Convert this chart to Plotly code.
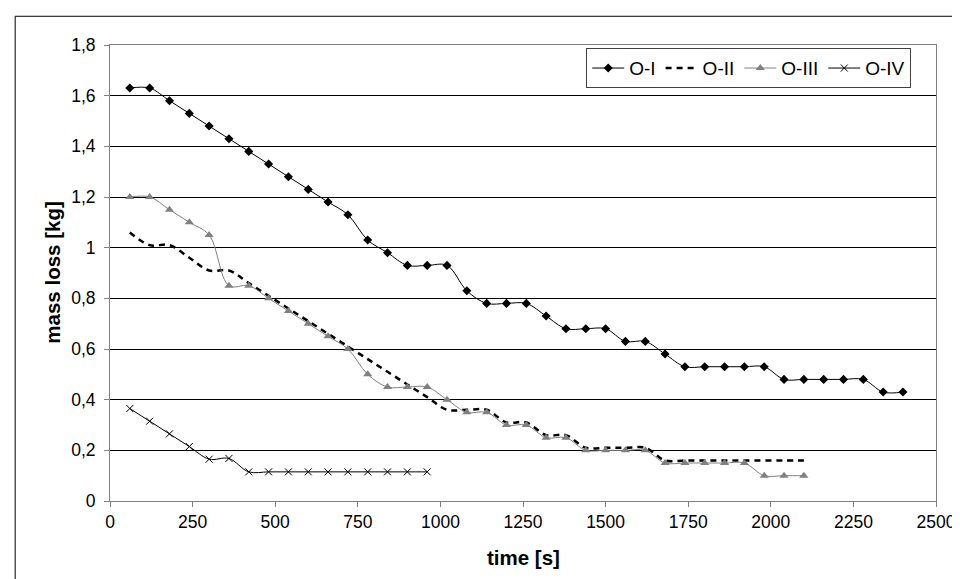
import plotly.graph_objects as go

# ---- data (time [s], mass loss [kg]) ----
t_o1 = [60, 120, 180, 240, 300, 360, 420, 480, 540, 600, 660, 720, 780, 840, 900, 960,
        1020, 1080, 1140, 1200, 1260, 1320, 1380, 1440, 1500, 1560, 1620, 1680, 1740,
        1800, 1860, 1920, 1980, 2040, 2100, 2160, 2220, 2280, 2340, 2400]
m_o1 = [1.63, 1.63, 1.58, 1.53, 1.48, 1.43, 1.38, 1.33, 1.28, 1.23, 1.18, 1.13, 1.03, 0.98,
        0.93, 0.93, 0.93, 0.83, 0.78, 0.78, 0.78, 0.73, 0.68, 0.68, 0.68, 0.63, 0.63, 0.58,
        0.53, 0.53, 0.53, 0.53, 0.53, 0.48, 0.48, 0.48, 0.48, 0.48, 0.43, 0.43]

t_o2 = [60, 120, 180, 240, 300, 360, 420, 480, 540, 600, 660, 720, 780, 840, 900, 960,
        1020, 1080, 1140, 1200, 1260, 1320, 1380, 1440, 1500, 1560, 1620, 1680, 1740,
        1800, 1860, 1920, 1980, 2040, 2100]
m_o2 = [1.06, 1.01, 1.01, 0.96, 0.91, 0.91, 0.86, 0.81, 0.76, 0.71, 0.66, 0.61, 0.56, 0.51,
        0.46, 0.41, 0.36, 0.36, 0.36, 0.31, 0.31, 0.26, 0.26, 0.21, 0.21, 0.21, 0.21, 0.16,
        0.16, 0.16, 0.16, 0.16, 0.16, 0.16, 0.16]

t_o3 = [60, 120, 180, 240, 300, 360, 420, 480, 540, 600, 660, 720, 780, 840, 900, 960,
        1020, 1080, 1140, 1200, 1260, 1320, 1380, 1440, 1500, 1560, 1620, 1680, 1740,
        1800, 1860, 1920, 1980, 2040, 2100]
m_o3 = [1.20, 1.20, 1.15, 1.10, 1.05, 0.85, 0.85, 0.80, 0.75, 0.70, 0.65, 0.60, 0.50, 0.45,
        0.45, 0.45, 0.40, 0.35, 0.35, 0.30, 0.30, 0.25, 0.25, 0.20, 0.20, 0.20, 0.20, 0.15,
        0.15, 0.15, 0.15, 0.15, 0.10, 0.10, 0.10]

t_o4 = [60, 120, 180, 240, 300, 360, 420, 480, 540, 600, 660, 720, 780, 840, 900, 960]
m_o4 = [0.365, 0.315, 0.265, 0.215, 0.165, 0.168, 0.115, 0.115, 0.115, 0.115, 0.115,
        0.115, 0.115, 0.115, 0.115, 0.115]

series_names = ["O-I", "O-II", "O-III", "O-IV"]

FONT = "Liberation Sans, Arial, sans-serif"

fig = go.Figure()
fig.add_trace(go.Scatter(
    x=t_o1, y=m_o1, name=series_names[0], mode="lines+markers",
    line=dict(color="black", width=1, shape="spline", smoothing=1),
    marker=dict(symbol="diamond", size=7, color="black")))
fig.add_trace(go.Scatter(
    x=t_o2, y=m_o2, name=series_names[1], mode="lines",
    line=dict(color="black", width=2.5, dash="6px,5px", shape="spline", smoothing=1)))
fig.add_trace(go.Scatter(
    x=t_o3, y=m_o3, name=series_names[2], mode="lines+markers",
    line=dict(color="#808080", width=1, shape="spline", smoothing=1),
    marker=dict(symbol="triangle-up", size=8, color="#808080")))
fig.add_trace(go.Scatter(
    x=t_o4, y=m_o4, name=series_names[3], mode="lines+markers",
    line=dict(color="black", width=1, shape="spline", smoothing=1),
    marker=dict(symbol="x-thin", size=7, color="black",
                line=dict(color="black", width=1))))

fig.update_layout(
    width=960, height=579,
    margin=dict(l=102, r=22, t=37, b=86),
    paper_bgcolor="white", plot_bgcolor="white",
    separators=",.",
    font=dict(family=FONT, size=17.5, color="black"),
    showlegend=True,
    legend=dict(
        orientation="h", x=0.970, xanchor="right", y=0.993, yanchor="top",
        bgcolor="white", bordercolor="#404040", borderwidth=1,
        font=dict(family=FONT, size=19, color="black"),
        itemwidth=32, tracegroupgap=0),
    xaxis=dict(
        range=[0, 2500], dtick=250, tick0=0,
        showgrid=False, zeroline=False,
        showline=True, linecolor="#808080", linewidth=1, mirror=True,
        ticks="outside", ticklen=5, tickcolor="#808080",
        tickfont=dict(family=FONT, size=17.5, color="black")),
    yaxis=dict(
        range=[0, 1.8], dtick=0.2, tick0=0,
        showgrid=True, gridcolor="black", gridwidth=1, zeroline=False,
        showline=True, linecolor="#808080", linewidth=1, mirror=True,
        ticks="outside", ticklen=5, tickcolor="#808080",
        ticklabelstandoff=5,
        tickfont=dict(family=FONT, size=17.5, color="black")),
    annotations=[
        dict(text="<b>time [s]</b>", xref="paper", yref="paper",
             x=0.5, y=-0.1235, xanchor="center", yanchor="middle",
             showarrow=False, font=dict(family=FONT, size=20.5, color="black")),
        dict(text="<b>mass loss [kg]</b>", xref="paper", yref="paper",
             x=-0.0706, y=0.5, xanchor="center", yanchor="middle", textangle=-90,
             showarrow=False, font=dict(family=FONT, size=20.5, color="black")),
    ],
    shapes=[
        dict(type="rect", xref="paper", yref="paper",
             x0=-0.1148, x1=1.0227, y0=-0.2, y1=1.063,
             line=dict(color="black", width=1), fillcolor="rgba(0,0,0,0)", layer="below"),
    ],
)

fig.write_html("out.html")
